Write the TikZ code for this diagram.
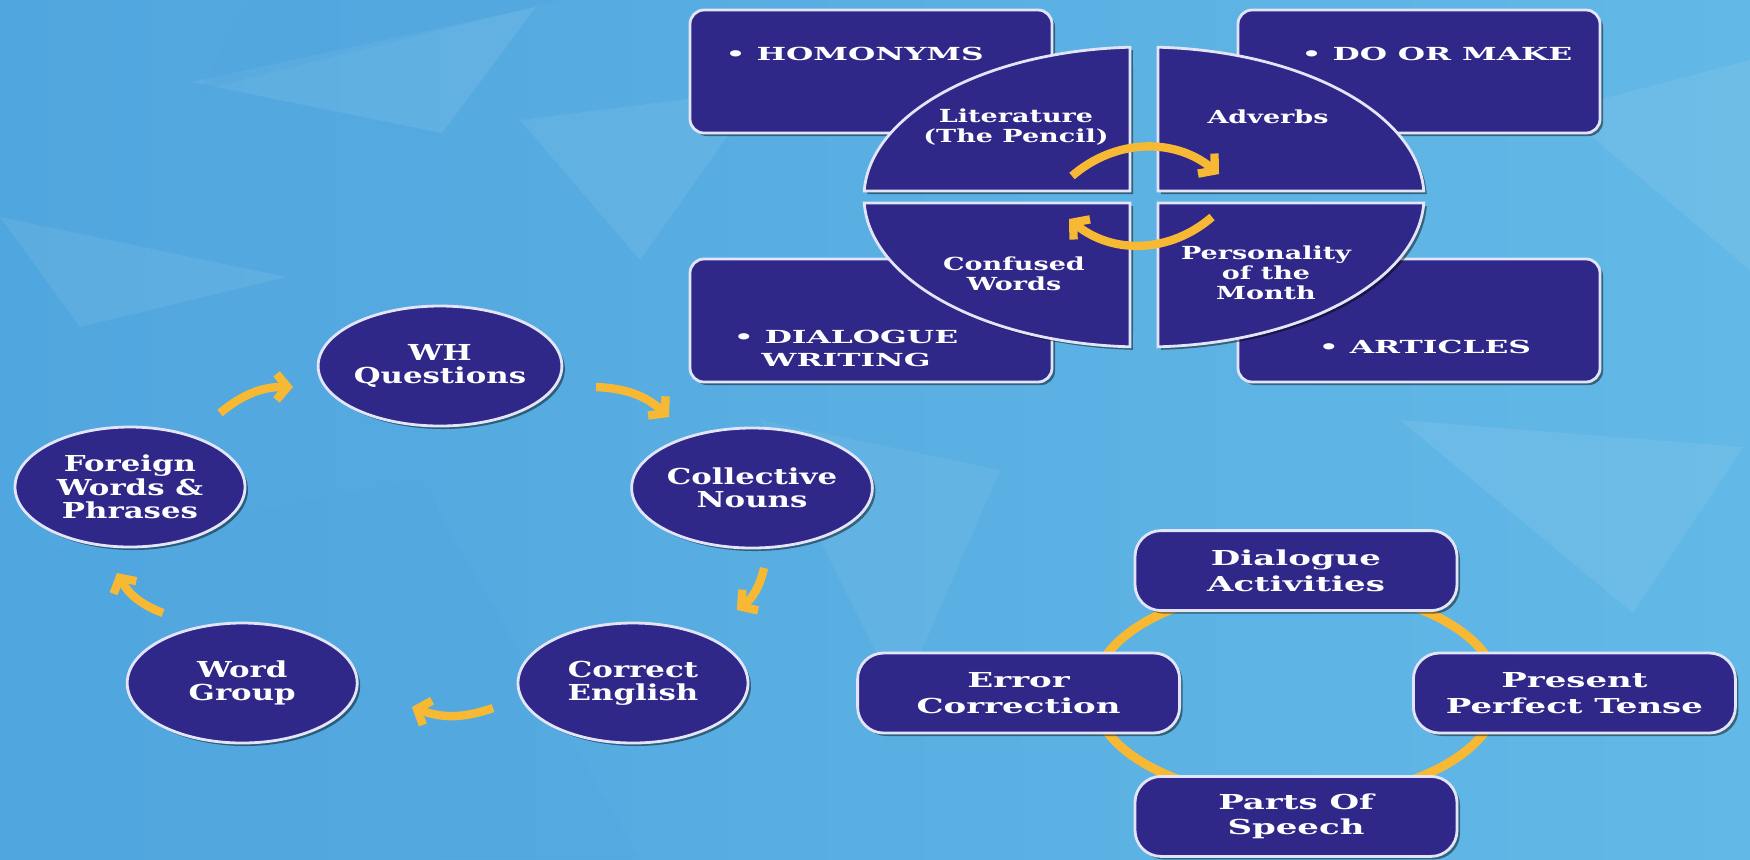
\documentclass[tikz,border=0pt]{standalone}
\usepackage{fontspec}
\setmainfont{DejaVu Serif}[FakeStretch=1.4]
\newfontfamily\quadfont{DejaVu Serif}[FakeStretch=1.5]
\newfontfamily\pillfont{DejaVu Serif}[FakeStretch=1.65]
\newfontfamily\tilefont{DejaVu Serif}[FakeStretch=1.74]
\usepackage{tikz}
\usetikzlibrary{shapes.geometric, arrows.meta, positioning, shadows, calc}
\definecolor{skydark}{RGB}{80, 166, 222}
\definecolor{skylight}{RGB}{98, 184, 230}
\definecolor{navybox}{RGB}{48, 40, 136}
\definecolor{rimwhite}{RGB}{226, 228, 250}
\definecolor{swoosh}{RGB}{247, 184, 52}

\begin{document}
\begin{tikzpicture}[x=0.5pt, y=-0.5pt,
    lift/.style={drop shadow={shadow xshift=1.5pt, shadow yshift=-1.5pt, opacity=.45, fill=black}},
    bubble/.style={ellipse, draw=rimwhite, line width=1.4pt, fill=navybox, lift,
        minimum width=115pt, minimum height=60pt, inner sep=0pt,
        align=center, text=white, font=\fontsize{11}{11.7}\selectfont\bfseries},
    tile/.style={rectangle, rounded corners=7pt, draw=rimwhite, line width=1.4pt, fill=navybox, lift,
        minimum width=181pt, minimum height=61.5pt},
    tiletext/.style={text=white, align=center, font=\tilefont\fontsize{9}{11.5}\selectfont\bfseries},
    qtext/.style={text=white, align=center, font=\quadfont\fontsize{9}{10}\selectfont\bfseries},
    pill/.style={rectangle, rounded corners=13pt, draw=rimwhite, line width=1.4pt, fill=navybox, lift,
        minimum width=161pt, minimum height=40pt, inner sep=0pt,
        align=center, text=white, font=\pillfont\fontsize{10.3}{12.8}\selectfont\bfseries},
    quad/.style={fill=navybox, draw=rimwhite, line width=1.4pt, lift},
    swoop/.style={draw=swoosh, line width=4.2pt, -{Straight Barb[length=5.5pt, width=13pt]}},
    ring/.style={draw=swoosh, line width=4.5pt}
]
    \useasboundingbox (0,0) rectangle (1750,859);

    % Background facets
    \shade[left color=skydark, right color=skylight] (0,0) rectangle (1750,859);
    \fill[white, opacity=.08] (192,82) -- (536,7) -- (442,133) -- cycle;
    \fill[white, opacity=.07] (0,217) -- (286,277) -- (80,327) -- cycle;
    \fill[skydark, opacity=.35] (250,0) -- (560,0) -- (200,90) -- cycle;
    \fill[skydark, opacity=.25] (0,560) -- (420,480) -- (640,859) -- (0,859) -- cycle;
    \fill[white, opacity=.07] (520,120) -- (760,90) -- (640,260) -- cycle;
    \fill[white, opacity=.08] (1400,420) -- (1743,447) -- (1633,613) -- cycle;
    \fill[white, opacity=.08] (1560,110) -- (1750,60) -- (1750,270) -- cycle;
    \fill[white, opacity=.06] (760,420) -- (1000,470) -- (900,700) -- cycle;

    % Cycle of topics (left)
    \node[bubble] (wh) at (440,366) {WH\\Questions};
    \node[bubble] (col) at (752,488) {Collective\\Nouns};
    \node[bubble] (cor) at (633,683) {Correct\\English};
    \node[bubble, left=79pt of cor] (grp) {Word\\Group};
    \node[bubble] (frn) at (130,487) {Foreign\\Words \&\\Phrases};

    \coordinate (a1) at (220,413); \coordinate (b1) at (293,387);
    \coordinate (a2) at (596,387); \coordinate (b2) at (669,417);
    \coordinate (a3) at (764,568); \coordinate (b3) at (737,610);
    \coordinate (a4) at (493,708); \coordinate (b4) at (412,707);
    \coordinate (a5) at (163,613); \coordinate (b5) at (117,573);
    \foreach \i in {1,...,5}
        \draw[swoop] (a\i) to[bend left=20] (b\i);

    % Split disc with corner tiles (top right)
    \coordinate (disc) at (1144,197);
    \node[tile, label={[tiletext, anchor=base west, xshift=15pt, yshift=-26pt]north west:\textbullet\ HOMONYMS}] (hom) at (871,71.5) {};
    \node[tile, label={[tiletext, anchor=base west, xshift=29pt, yshift=-26pt]north west:\textbullet\ DO OR MAKE}] (dom) at (1419,71.5) {};
    \node[tile, label={[tiletext, xshift=-12.5pt, yshift=-14pt]center:\textbullet\ DIALOGUE\\WRITING}] (dia) at (871,320.5) {};
    \node[tile, label={[tiletext, xshift=3pt, yshift=-13pt]center:\textbullet\ ARTICLES}] (art) at (1419,320.5) {};

    \foreach \a/\b/\dx/\dy in {92.87/177.71/-14/-6, 2.29/87.13/14/-6, 182.29/267.13/-14/6, 272.87/357.71/14/6}
        \draw[quad] ($(disc)+(\a:140pt and 75pt)$) arc[start angle=\a, end angle=\b, x radius=140pt, y radius=75pt]
            -- ($(disc)+(\dx,\dy)$) -- cycle;

    \node[qtext] (lit) at (1016,127) {Literature\\(The Pencil)};
    \node[qtext] (adv) at (1268,117) {Adverbs};
    \node[qtext] (cnf) at (1014,274) {Confused\\Words};
    \node[qtext] (prs) at (1266,273) {Personality\\of the\\Month};

    \coordinate (c1) at (1072,176); \coordinate (d1) at (1219,174);
    \coordinate (c2) at (1212,217); \coordinate (d2) at (1069,219);
    \draw[swoop] (c1) to[bend left=40] (d1);
    \draw[swoop] (c2) to[bend left=40] (d2);

    % Ring of activities (bottom right)
    \coordinate (orbit) at (1296,693);
    \draw[ring] (orbit) ellipse [x radius=203, y radius=106];
    \node[pill, above=40.5pt of orbit] (dlg) {Dialogue\\Activities};
    \node[pill, left=57.5pt of orbit] (err) {Error\\Correction};
    \node[pill, right=58pt of orbit] (ppt) {Present\\Perfect Tense};
    \node[pill, below=41pt of orbit] (pos) {Parts Of\\Speech};
\end{tikzpicture}
\end{document}
